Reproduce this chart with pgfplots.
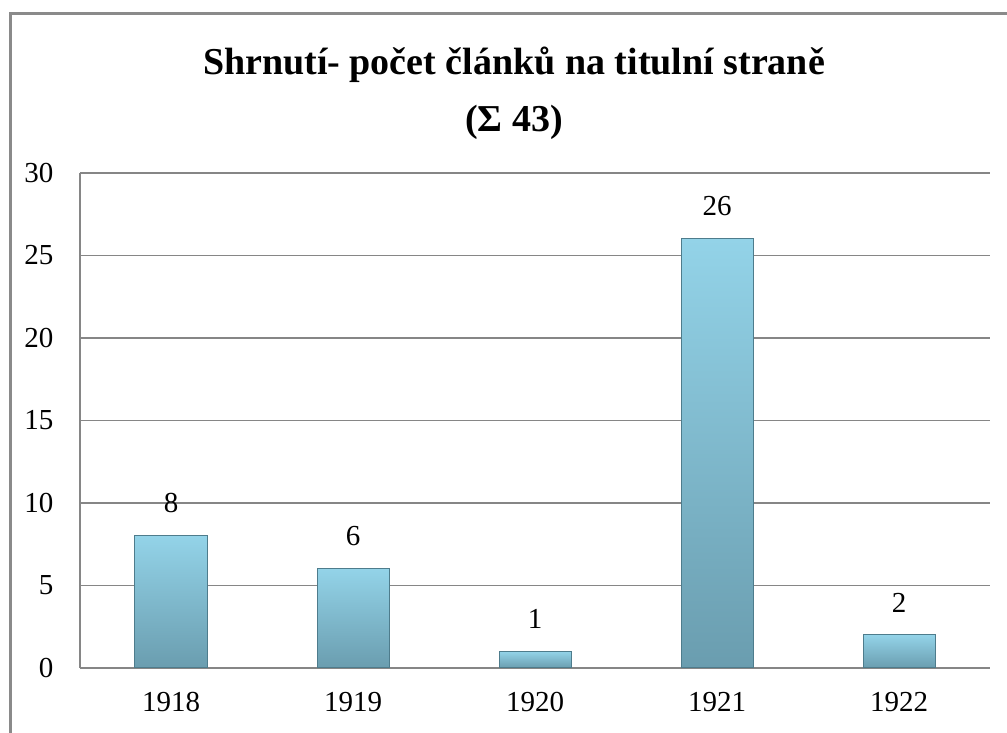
\documentclass[border=0pt]{standalone}
\usepackage{pgfplots}
\pgfplotsset{compat=1.18}
\usepackage{fontspec}
\setmainfont{Liberation Serif}
\definecolor{gridgray}{HTML}{868686}
\definecolor{framegray}{HTML}{8A8A8A}
\definecolor{bartop}{HTML}{93D3E8}
\definecolor{barbot}{HTML}{6A9DAF}
\definecolor{baredge}{HTML}{4E7C8C}
\begin{document}
\begin{tikzpicture}
\useasboundingbox (0pt,0pt) rectangle (1007pt,733pt);
\draw[framegray, line width=3pt] (10pt,-5pt) -- (10pt,719pt) -- (1012pt,719pt);
\node[anchor=base, font=\fontsize{38}{44}\selectfont\bfseries] at (514pt,658pt) {Shrnutí- počet článků na titulní straně};
\node[anchor=base, font=\fontsize{38}{44}\selectfont\bfseries] at (514pt,601pt) {(Σ 43)};
\begin{axis}[
  at={(80pt,65pt)}, anchor=south west,
  width=910pt, height=495pt, scale only axis,
  xmin=-0.5, xmax=4.5, ymin=0, ymax=30,
  xtick={0,1,2,3,4},
  xticklabels={1918,1919,1920,1921,1922},
  ytick={0,5,10,15,20,25,30},
  axis x line*=bottom, axis y line*=left,
  axis line style={gridgray, line width=1.5pt},
  major tick length=0pt,
  ymajorgrids, grid style={gridgray, line width=1.5pt},
  /pgf/number format/assume math mode=true,
  tick label style={font=\fontsize{29}{33}\selectfont},
  yticklabel style={xshift=-23pt},
  xticklabel style={yshift=-21pt},
  ybar, bar width=72pt, bar shift=0pt,
  nodes near coords,
  every node near coord/.append style={font=\fontsize{29}{33}\selectfont, black, yshift=19pt},
  mybar/.style={ybar, top color=bartop, bottom color=barbot, draw=baredge, line width=1pt},
]
\addplot[mybar] coordinates {(0,8)};
\addplot[mybar] coordinates {(1,6)};
\addplot[mybar] coordinates {(2,1)};
\addplot[mybar] coordinates {(3,26)};
\addplot[mybar] coordinates {(4,2)};
\end{axis}
\end{tikzpicture}
\end{document}
